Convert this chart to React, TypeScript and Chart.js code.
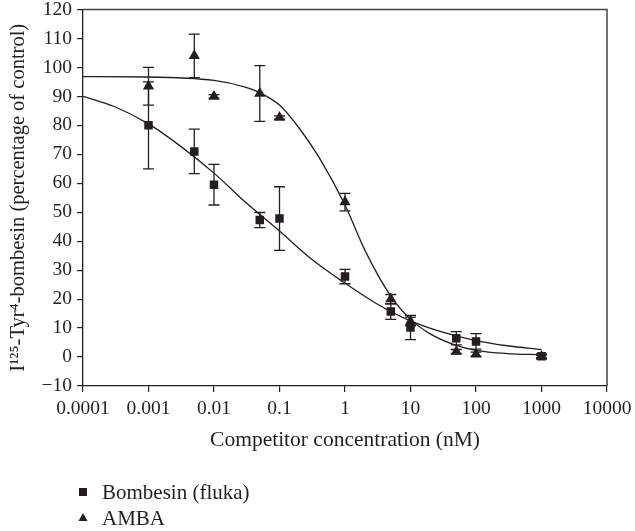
import React, { useEffect, useRef } from "react";
import { Chart, registerables } from "chart.js";

Chart.register(...registerables);

// ---- data ----
const concentrations = [0.001, 0.005, 0.01, 0.05, 0.1, 1, 5, 10, 50, 100, 1000];
const bombesinValues = [80, 71, 59.5, 47.3, 47.8, 27.8, 15.7, 10.2, 6.5, 5.4, 0.3];
const bombesinErrors = [15, 7.7, 7, 2.6, 11, 2.5, 2.7, 4.2, 2.3, 2.7, 0.8];
const ambaValues = [93.5, 104, 90, 91, 82.7, 53.5, 20, 12.3, 1.9, 1.0, 0.2];
const ambaErrors = [6.5, 7.5, 0.6, 9.6, 0.6, 3, 1.6, 1.5, 0.7, 0.7, 0.5];

const bombesinFitX = [0.0001, 0.0003, 0.001, 0.003, 0.01, 0.03, 0.1, 0.3, 1, 3, 10, 30, 100, 300, 1000];
const bombesinFitY = [90, 86.5, 80.5, 73, 63.5, 53.5, 43.5, 34, 25.5, 18.5, 12.5, 8.7, 5.7, 3.9, 2.6];
const ambaFitX = [0.0001, 0.001, 0.01, 0.03, 0.05, 0.1, 0.2, 0.4, 1, 2, 5, 10, 20, 50, 100, 300, 1000];
const ambaFitY = [96.8, 96.7, 95.5, 93.2, 91.3, 87, 79, 69, 52.5, 37, 21, 13, 8, 4, 2.3, 1.2, 0.8];

const xTickValues = [0.0001, 0.001, 0.01, 0.1, 1, 10, 100, 1000, 10000];
const xTickLabels = ["0.0001", "0.001", "0.01", "0.1", "1", "10", "100", "1000", "10000"];

const seriesLabels = ["Bombesin (fluka)", "AMBA"];
const xTitle = "Competitor concentration (nM)";
const yTitle = "I\u00B9\u00B2\u2075-Tyr\u2074-bombesin (percentage of control)";

const FONT = "'Liberation Serif', 'Times New Roman', serif";
const INK = "#231f20";

const errorBarPlugin = {
  id: "errorBars",
  beforeDatasetsDraw(chart: any) {
    const { ctx } = chart;
    const xs = chart.scales.x;
    const ys = chart.scales.y;
    const sets = [
      { v: bombesinValues, e: bombesinErrors },
      { v: ambaValues, e: ambaErrors },
    ];
    ctx.save();
    ctx.strokeStyle = INK;
    ctx.lineWidth = 1.3;
    sets.forEach((s) => {
      concentrations.forEach((c, i) => {
        const px = xs.getPixelForValue(c);
        const top = ys.getPixelForValue(s.v[i] + s.e[i]);
        const bot = ys.getPixelForValue(s.v[i] - s.e[i]);
        ctx.beginPath();
        ctx.moveTo(px, top);
        ctx.lineTo(px, bot);
        ctx.moveTo(px - 5.5, top);
        ctx.lineTo(px + 5.5, top);
        ctx.moveTo(px - 5.5, bot);
        ctx.lineTo(px + 5.5, bot);
        ctx.stroke();
      });
    });
    ctx.restore();
  },
};

const framePlugin = {
  id: "frame",
  afterDraw(chart: any) {
    const { ctx, chartArea } = chart;
    ctx.save();
    ctx.strokeStyle = "#444";
    ctx.lineWidth = 1.5;
    ctx.beginPath();
    ctx.moveTo(chartArea.left, chartArea.top);
    ctx.lineTo(chartArea.right, chartArea.top);
    ctx.lineTo(chartArea.right, chartArea.bottom);
    ctx.stroke();
    ctx.restore();
  },
};

const legendPlugin = {
  id: "customLegend",
  afterDraw(chart: any) {
    const { ctx, chartArea } = chart;
    const x = chartArea.left;
    const rows = [chartArea.bottom + 106, chartArea.bottom + 132];
    ctx.save();
    ctx.fillStyle = INK;
    ctx.fillRect(x - 4, rows[0] - 4, 8, 8);
    ctx.beginPath();
    ctx.moveTo(x, rows[1] - 5);
    ctx.lineTo(x + 4.5, rows[1] + 3);
    ctx.lineTo(x - 4.5, rows[1] + 3);
    ctx.closePath();
    ctx.fill();
    ctx.font = `21px ${FONT}`;
    ctx.textBaseline = "middle";
    ctx.textAlign = "left";
    ctx.fillText(seriesLabels[0], x + 19, rows[0] + 1);
    ctx.fillText(seriesLabels[1], x + 19, rows[1] + 1);
    ctx.restore();
  },
};

export default function App() {
  const canvasRef = useRef<HTMLCanvasElement | null>(null);

  useEffect(() => {
    const canvas = canvasRef.current;
    if (!canvas) return;
    const chart = new Chart(canvas, {
      type: "scatter",
      data: {
        datasets: [
          {
            label: seriesLabels[0],
            data: concentrations.map((c, i) => ({ x: c, y: bombesinValues[i] })),
            pointStyle: "rect",
            pointRadius: 6,
            backgroundColor: INK,
            borderColor: INK,
            borderWidth: 0,
            showLine: false,
            order: 0,
          },
          {
            label: seriesLabels[1],
            data: concentrations.map((c, i) => ({ x: c, y: ambaValues[i] })),
            pointStyle: "triangle",
            pointRadius: 6.5,
            backgroundColor: INK,
            borderColor: INK,
            borderWidth: 0,
            showLine: false,
            order: 1,
          },
          {
            label: "fit1",
            data: bombesinFitX.map((c, i) => ({ x: c, y: bombesinFitY[i] })),
            showLine: true,
            pointRadius: 0,
            borderColor: INK,
            borderWidth: 1.3,
            cubicInterpolationMode: "monotone",
            order: 2,
          },
          {
            label: "fit2",
            data: ambaFitX.map((c, i) => ({ x: c, y: ambaFitY[i] })),
            showLine: true,
            pointRadius: 0,
            borderColor: INK,
            borderWidth: 1.3,
            cubicInterpolationMode: "monotone",
            order: 3,
          },
        ],
      },
      options: {
        animation: false,
        responsive: true,
        maintainAspectRatio: false,
        layout: { padding: { left: 0, top: 9.5, right: 28, bottom: 78 } },
        plugins: {
          legend: { display: false },
          tooltip: { enabled: false },
        },
        scales: {
          x: {
            type: "logarithmic",
            min: 0.0001,
            max: 10000,
            afterBuildTicks: (scale: any) => {
              scale.ticks = xTickValues.map((v) => ({ value: v }));
            },
            afterFit: (scale: any) => {
              scale.height = 67;
              scale.paddingLeft = 0;
              scale.paddingRight = 0;
            },
            ticks: {
              autoSkip: false,
              maxRotation: 0,
              padding: 5,
              color: INK,
              font: { family: FONT, size: 19.5 },
              callback: (value: any) => {
                const i = xTickValues.findIndex((v) => Math.abs(Math.log10(v) - Math.log10(Number(value))) < 1e-6);
                return i >= 0 ? xTickLabels[i] : "";
              },
            },
            grid: {
              drawOnChartArea: false,
              drawTicks: true,
              tickLength: 6,
              color: INK,
              lineWidth: 1.2,
            },
            border: { display: true, color: INK, width: 1.3 },
            title: {
              display: true,
              text: xTitle,
              color: INK,
              font: { family: FONT, size: 21.5 },
              padding: { top: 0, bottom: 0 },
            },
          },
          y: {
            type: "linear",
            min: -10,
            max: 120,
            afterFit: (scale: any) => {
              scale.width = 83;
              scale.paddingTop = 0;
              scale.paddingBottom = 0;
            },
            ticks: {
              stepSize: 10,
              padding: 5,
              color: INK,
              font: { family: FONT, size: 19.5 },
              callback: (value: any) => {
                const n = Number(value);
                return n < 0 ? "\u2212" + Math.abs(n) : String(n);
              },
            },
            grid: {
              drawOnChartArea: false,
              drawTicks: true,
              tickLength: 6,
              color: INK,
              lineWidth: 1.2,
            },
            border: { display: true, color: INK, width: 1.3 },
            title: {
              display: true,
              text: yTitle,
              color: INK,
              font: { family: FONT, size: 20.5 },
              padding: { top: 6, bottom: 0 },
            },
          },
        },
      },
      plugins: [errorBarPlugin, framePlugin, legendPlugin],
    } as any);
    return () => chart.destroy();
  }, []);

  return (
    <div style={{ position: "fixed", left: 0, top: 0, width: 635, height: 531, background: "#fff" }}>
      <canvas ref={canvasRef} />
    </div>
  );
}
